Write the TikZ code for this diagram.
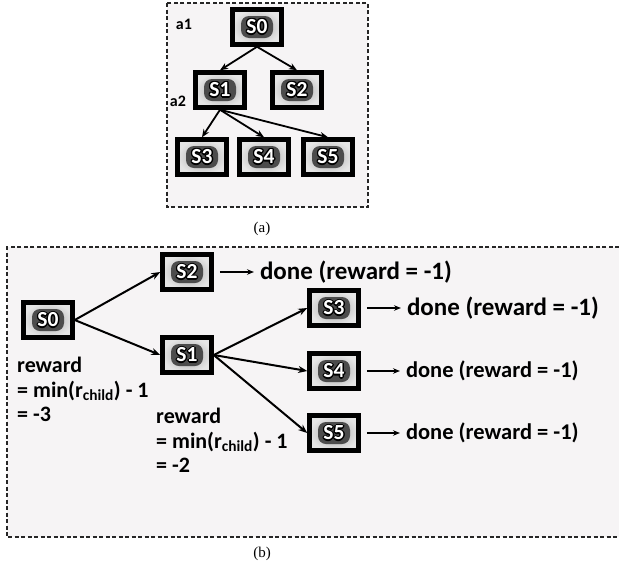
\documentclass[tikz,border=0pt]{standalone}
\usepackage{fontspec}
\setmainfont{Carlito}
\newfontfamily\capfont{Liberation Serif}
\usetikzlibrary{arrows.meta}
\definecolor{panelbg}{RGB}{246,244,245}
\newsavebox\halobox
\newlength\halod
\setlength\halod{1.4pt}
\newcommand\hcopy[2]{\rlap{\kern#1\raisebox{#2}{\usebox\halobox}}}
\newcommand\halo[1]{\sbox\halobox{\color{black}#1}%
 \hcopy{\halod}{0pt}\hcopy{-\halod}{0pt}\hcopy{0pt}{\halod}\hcopy{0pt}{-\halod}%
 \hcopy{.7\halod}{.7\halod}\hcopy{-.7\halod}{.7\halod}\hcopy{.7\halod}{-.7\halod}\hcopy{-.7\halod}{-.7\halod}%
 \textcolor{white}{#1}}
\begin{document}
\begin{tikzpicture}[x=1pt,y=-1pt,
  stnode/.style={draw=black, line width=4.5pt, minimum width=49pt, minimum height=35pt,
    inner sep=0pt, inner color=gray!70, outer color=gray!20,
    font=\bfseries\fontsize{21.5}{21.5}\selectfont,
    path picture={
      \fill[black!70, rounded corners=8pt] ([xshift=-16pt,yshift=-11pt]path picture bounding box.center) rectangle ([xshift=16pt,yshift=11pt]path picture bounding box.center);
    }},
  dashline/.style={line width=1.5pt, dash pattern=on 4pt off 2.5pt, black!85},
  link/.style={line width=2pt, -{Stealth[length=9pt,width=7pt]}},
  smalllink/.style={line width=1.8pt, -{Stealth[length=8pt,width=6.5pt]}},
  donelink/.style={line width=1.8pt, -{Stealth[length=7pt,width=5.5pt]}, shorten <=6pt},
  donetxt/.style={inner sep=0pt, outer sep=6pt, anchor=west, font=\bfseries\fontsize{25}{25}\selectfont},
  donesm/.style={donetxt, font=\bfseries\fontsize{22.5}{22.5}\selectfont},
  rewtxt/.style={inner sep=0pt, anchor=north west, align=left, font=\bfseries\fontsize{22}{24.5}\selectfont},
  lbl/.style={inner sep=0pt, font=\bfseries\fontsize{16}{16}\selectfont},
  capt/.style={inner sep=0pt, font=\capfont\fontsize{15}{15}\selectfont}]
\path[use as bounding box, fill=white] (0,0) rectangle (619,568);
% panel (a)
\draw[dashline, fill=panelbg] (167,3) rectangle (368,207);
\node[stnode] (A0) at (257,27) {\halo{S0}};
\node[stnode] (A1) at (220,90) {\halo{S1}};
\node[stnode] (A2) at (297,90) {\halo{S2}};
\node[stnode] (A3) at (202,157) {\halo{S3}};
\node[stnode] (A4) at (264,157) {\halo{S4}};
\node[stnode] (A5) at (328,157) {\halo{S5}};
\node[lbl] (a1) at (184,24) {a1};
\node[lbl] (a2) at (178,101) {a2};
\draw[smalllink] (A0.south) -- (A1.north);
\draw[smalllink] (A0.south) -- (A2.north);
\draw[smalllink] (A1.south) -- (A3.north);
\draw[smalllink] (A1.south) -- (A4.north);
\draw[smalllink] (A1.south) -- (A5.north);
\node[capt] (capa) at (262,229) {(a)};
% panel (b)
\fill[panelbg] (7,247) rectangle (619,537);
\draw[dashline] (619,247) -- (7,247) -- (7,537) -- (619,537);
\node[stnode] (B0) at (48,320) {\halo{S0}};
\node[stnode] (B2) at (187,272) {\halo{S2}};
\node[stnode] (B1) at (187,355) {\halo{S1}};
\node[stnode] (B3) at (334,308) {\halo{S3}};
\node[stnode] (B4) at (334,371) {\halo{S4}};
\node[stnode] (B5) at (334,433) {\halo{S5}};
\draw[link] (B0.east) -- (B2.west);
\draw[link] (B0.east) -- (B1.west);
\draw[link] (B1.east) -- (B3.west);
\draw[link] (B1.east) -- (B4.west);
\draw[link] (B1.east) -- (B5.west);
\node[donetxt] (D2) at (254,272) {done (reward = -1)};
\node[donetxt] (D3) at (401,308) {done (reward = -1)};
\node[donesm] (D4) at (400,371) {done (reward = -1)};
\node[donesm] (D5) at (400,433) {done (reward = -1)};
\draw[donelink] (B2) -- (D2);
\draw[donelink] (B3) -- (D3);
\draw[donelink] (B4) -- (D4);
\draw[donelink] (B5) -- (D5);
\node[rewtxt] (R0) at (17,357) {reward\\= min(r\textsubscript{child}) - 1\\= -3};
\node[rewtxt] (R1) at (156,408) {reward\\= min(r\textsubscript{child}) - 1\\= -2};
\node[capt] (capb) at (262,554) {(b)};
\end{tikzpicture}
\end{document}
